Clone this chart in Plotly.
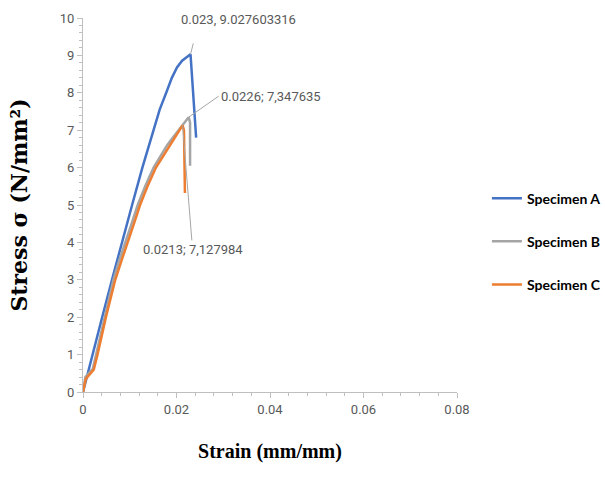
import plotly.graph_objects as go

# Data
strain_A = [0, 0.0020, 0.0041, 0.0062, 0.0083, 0.0105, 0.0127, 0.0150, 0.0164, 0.0178, 0.0190, 0.0201, 0.0212, 0.0230, 0.0242]
stress_A = [0, 1.0, 2.0, 3.0, 4.0, 5.0, 6.0, 7.0, 7.55, 8.0, 8.4, 8.68, 8.86, 9.027603316, 6.8]

strain_B = [0, 0.0005, 0.0021, 0.0028, 0.0046, 0.0065, 0.0077, 0.0091, 0.0104, 0.0117, 0.0133, 0.0151, 0.0165, 0.0180, 0.0192, 0.0205, 0.0226, 0.0229, 0.0229]
stress_B = [0, 0.40, 0.62, 1.0, 2.0, 3.0, 3.5, 4.0, 4.5, 5.0, 5.5, 6.0, 6.3, 6.6, 6.8, 7.0, 7.347635, 7.2, 6.05]

strain_C = [0, 0.0006, 0.0023, 0.0031, 0.0049, 0.0069, 0.0082, 0.0096, 0.0109, 0.0122, 0.0138, 0.0156, 0.0171, 0.0186, 0.0200, 0.0213, 0.0216, 0.0218]
stress_C = [0, 0.35, 0.60, 1.0, 2.0, 3.0, 3.5, 4.0, 4.5, 5.0, 5.5, 6.0, 6.3, 6.6, 6.85, 7.127984, 7.0, 5.32]

series_names = ["Specimen A", "Specimen B", "Specimen C"]
series_colors = ["#4472C4", "#A5A5A5", "#ED7D31"]

x_ticks = [0, 0.02, 0.04, 0.06, 0.08]
x_ticklabels = ["0", "0.02", "0.04", "0.06", "0.08"]
y_ticks = list(range(0, 11))

ann_points = [
    (0.023, 9.027603316, "0.023, 9.027603316"),
    (0.0226, 7.347635, "0.0226; 7,347635"),
    (0.0213, 7.127984, "0.0213; 7,127984"),
]

fig = go.Figure()
for xs, ys, name, col in zip([strain_A, strain_B, strain_C], [stress_A, stress_B, stress_C],
                             series_names, series_colors):
    fig.add_trace(go.Scatter(x=xs, y=ys, mode="lines", name=name, legendgroup=name,
                             line=dict(color=col, width=2.5)))

tick_font = dict(family="Liberation Sans Narrow, Roboto", size=13, color="#595959")
ann_font = dict(family="Liberation Sans Narrow, Roboto", size=13, color="#595959")
lead_col = "#A6A6A6"

# Label A: short leader + text above
fig.add_annotation(x=ann_points[0][0], y=ann_points[0][1], text=" ", showarrow=True,
                   arrowhead=0, arrowwidth=1, arrowcolor=lead_col, ax=5, ay=-20,
                   font=ann_font)
fig.add_annotation(x=ann_points[0][0], y=ann_points[0][1], text=ann_points[0][2], showarrow=False,
                   xshift=48, yshift=35, font=ann_font, xanchor="center", yanchor="middle")
# Label B
fig.add_annotation(x=ann_points[1][0], y=ann_points[1][1], text=ann_points[1][2], showarrow=True,
                   arrowhead=0, arrowwidth=1, arrowcolor=lead_col, ax=30, ay=-21,
                   font=ann_font, xanchor="left", yanchor="middle")
# Label C
fig.add_annotation(x=ann_points[2][0], y=ann_points[2][1], text=ann_points[2][2], showarrow=True,
                   arrowhead=0, arrowwidth=1, arrowcolor=lead_col, ax=10, ay=124,
                   font=ann_font, xanchor="center", yanchor="middle")

axis_col = "#BFBFBF"
fig.update_xaxes(range=[0, 0.08], tickvals=x_ticks, ticktext=x_ticklabels, showgrid=False,
                 zeroline=False, showline=True, linecolor=axis_col, linewidth=1,
                 ticks="outside", ticklen=5, tickcolor=axis_col,
                 minor=dict(dtick=0.004, ticks="outside", ticklen=3, tickcolor=axis_col, showgrid=False),
                 tickfont=tick_font,
                 title=dict(text="Strain (mm/mm)", standoff=28,
                            font=dict(family="Liberation Serif", size=20, color="black", weight="bold")))
fig.update_yaxes(range=[0, 10], tickvals=y_ticks, showgrid=False, zeroline=False,
                 showline=True, linecolor=axis_col, linewidth=1,
                 ticks="outside", ticklen=5, tickcolor=axis_col,
                 minor=dict(dtick=0.2, ticks="outside", ticklen=3, tickcolor=axis_col, showgrid=False),
                 tickfont=tick_font,
                 title=dict(text="Stress σ (N/mm²)", standoff=26,
                            font=dict(family="DejaVu Serif", size=22, color="black", weight="bold")))

fig.update_layout(
    width=605, height=494,
    margin=dict(l=83, r=148, t=18, b=102, autoexpand=False),
    paper_bgcolor="white", plot_bgcolor="white",
    showlegend=True,
    legend=dict(x=1.08, y=0.56, xanchor="left", yanchor="top", tracegroupgap=22,
                font=dict(family="Lato", size=14, color="black", weight="bold"),
                bgcolor="rgba(0,0,0,0)"),
)

fig.write_html("out.html")
